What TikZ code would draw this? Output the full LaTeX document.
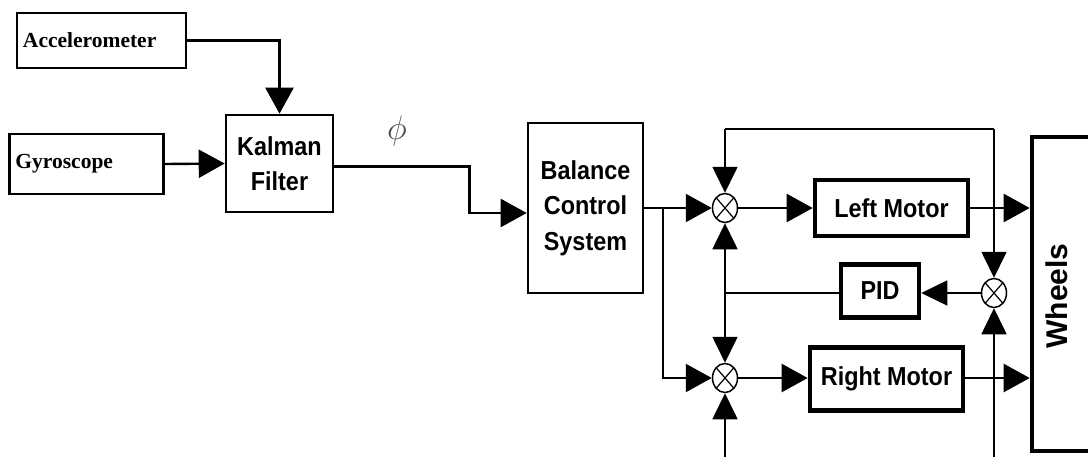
\documentclass[tikz,border=0pt]{standalone}
\usepackage{fix-cm}
\usepackage{fontspec}
\setmainfont{Liberation Serif}
\newfontfamily\arialf[FakeStretch=0.9]{Liberation Sans}
\newfontfamily\wheelf{Liberation Sans}
\usetikzlibrary{arrows.meta, calc, shapes.geometric}
\tikzset{
  sensorbox/.style={draw, line width=2.6pt, inner xsep=6pt, inner ysep=0pt, align=left,
    font=\fontsize{21.5}{24}\selectfont\bfseries},
  block/.style={draw, line width=2.6pt, inner sep=0pt, align=center,
    font=\arialf\bfseries\fontsize{26}{35.5}\selectfont},
  heavyblock/.style={block, line width=4.6pt},
  sumjn/.style={ellipse, draw, line width=1.5pt, minimum width=25pt, minimum height=29pt, inner sep=0pt,
    path picture={\draw[line width=1.2pt] (path picture bounding box.south west) -- (path picture bounding box.north east)
      (path picture bounding box.north west) -- (path picture bounding box.south east);}},
  wire/.style={-{Triangle[length=26pt, width=28pt]}, line width=2.4pt},
  fbwire/.style={-{Triangle[length=26pt, width=25pt]}, line width=1.7pt},
  plainwire/.style={line width=1.7pt}
}

\begin{document}
\begin{tikzpicture}[x=1pt, y=-1pt]
        \useasboundingbox (0,0) rectangle (1088,456);
        \fill[white] (0,0) rectangle (1088,456);
        \clip (0,0) rectangle (1088,456);
        % sensors and the filter
        \node[sensorbox, text width=157pt, minimum height=55pt] (acc) at (101.5,40.5) {Accelerometer};
        \node[sensorbox, text width=142pt, minimum height=60pt] (gyro) at (86.5,164) {Gyroscope};
        \node[block, minimum width=107pt, minimum height=97pt] (kalman) at (279.5,163.5) {Kalman\\Filter};
        \node[block, minimum width=115pt, minimum height=170pt] (balance) at (585.5,208) {Balance\\Control\\System};
        \node[gray!60!black, font=\fontsize{34}{36}\selectfont] (phi) at (397,131) {$\phi$};
        \draw[wire] (acc.east) -| (kalman.north);
        \draw[wire] (gyro.east) -- (kalman.west);
        \draw[wire] ([yshift=-3pt]kalman.east) -- ++(135,0) |- ([yshift=-5pt]balance.west);
        % motor loop
        \node[sumjn] (sumL) at (725,208) {};
        \node[sumjn] (sumR) at (725,378) {};
        \node[sumjn] (sumE) at (994,293) {};
        \node[heavyblock, minimum width=153pt, minimum height=56pt] (lmotor) at (891.5,208) {Left Motor};
        \node[heavyblock, minimum width=78pt, minimum height=53pt] (pid) at (880,291) {PID};
        \node[heavyblock, minimum width=153pt, minimum height=63pt] (rmotor) at (886.5,379) {Right Motor};
        \node[heavyblock, minimum width=90pt, minimum height=314pt] (wheels) at (1077,294) {};
        \node[rotate=90, font=\wheelf\bfseries\fontsize{30}{32}\selectfont] (wheelstxt) at (1057,296) {Wheels};
        \coordinate (br) at (663,208);
        \coordinate (topL) at (725,129);
        \coordinate (topR) at (994,129);
        \coordinate (pidL) at (725,293);
        \coordinate (botL) at (725,470);
        \coordinate (botR) at (994,470);
        \draw[wire] (balance.east) -- (sumL.west);
        \draw[wire] (br) |- (sumR.west);
        \draw[wire] (sumL.east) -- (lmotor.west);
        \draw[wire] (sumR.east) -- (sumR.east -| rmotor.west);
        \draw[wire] (lmotor.east) -- (lmotor.east -| wheels.west);
        \draw[wire] (sumR.east -| rmotor.east) -- (sumR.east -| wheels.west);
        \draw[plainwire] (topL) -- (topR);
        \draw[fbwire] (topL) -- (sumL.north);
        \draw[fbwire] (topR) -- (sumE.north);
        \draw[fbwire] (sumE.west) -- (sumE.west -| pid.east);
        \draw[plainwire] (pidL -| pid.west) -- (pidL);
        \draw[fbwire] (pidL) -- (sumL.south);
        \draw[fbwire] (pidL) -- (sumR.north);
        \draw[fbwire] (botL) -- (sumR.south);
        \draw[fbwire] (botR) -- (sumE.south);
      \end{tikzpicture}
\end{document}
